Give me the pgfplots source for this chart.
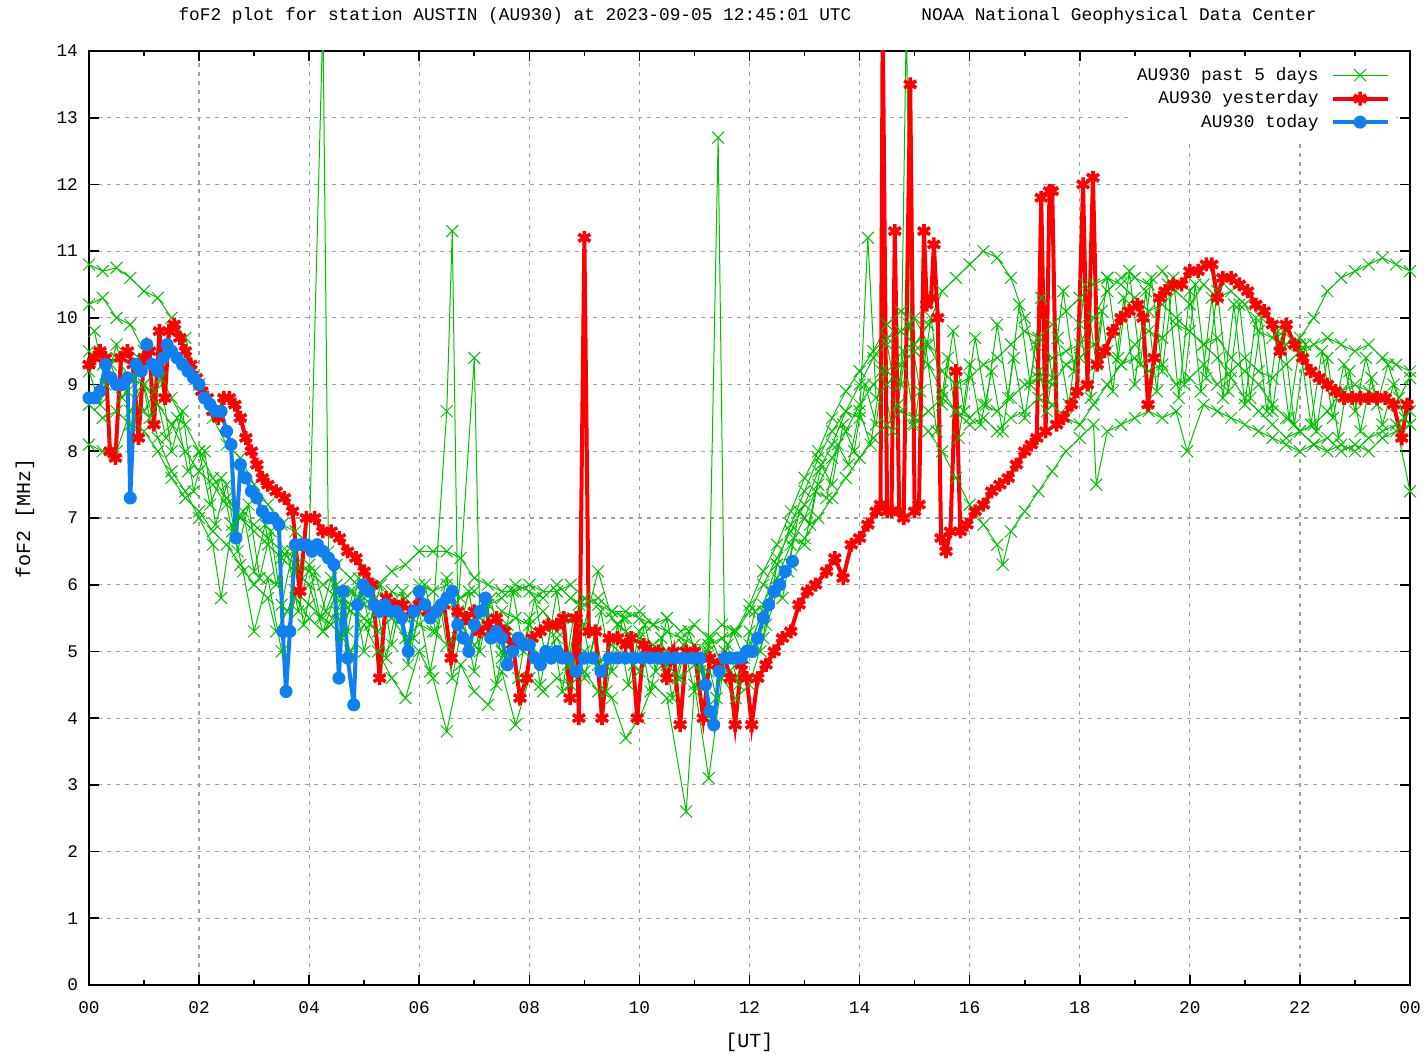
\documentclass[border=0pt]{standalone}
\usepackage{fontspec}
\setmainfont{Liberation Mono}
\setmonofont{Liberation Mono}
\usepackage{pgfplots}
\usepackage{pgfplotstable}
\pgfplotsset{compat=1.18}
\definecolor{gpgreen}{RGB}{0,192,0}
\definecolor{gpred}{RGB}{255,0,0}
\definecolor{gpblue}{RGB}{16,128,240}
\definecolor{gridgray}{RGB}{160,160,160}
\newcommand{\gf}{\fontsize{8.9}{10}\selectfont}

\pgfplotstableread{
x y
0.00 10.8
0.25 10.7
0.50 10.75
0.75 10.6
1.00 10.4
1.25 10.3
1.50 10.0
1.75 9.7
2.00 9.0
2.25 8.5
2.50 8.1
2.75 7.9
3.00 7.5
3.25 7.2
3.50 6.9
3.75 6.8
4.00 6.6
4.25 14.5
4.35 6.5
4.50 6.3
4.75 6.1
5.00 5.9
5.25 6.0
5.50 6.2
5.75 6.3
6.00 6.5
6.25 6.5
6.50 6.5
6.75 6.4
7.00 6.1
7.25 6.0
7.50 5.9
7.75 5.9
8.00 6.0
8.25 5.9
8.50 5.9
8.75 6.0
9.00 5.8
9.25 5.7
9.50 5.6
9.75 5.6
10.00 5.5
10.25 5.4
10.50 5.3
10.75 5.2
11.00 5.1
11.25 5.1
11.50 5.2
11.75 5.3
12.00 5.6
12.25 6.0
12.50 6.4
12.75 6.8
13.00 7.2
13.25 7.7
13.50 8.1
13.75 8.6
14.00 9.0
14.25 9.4
14.50 9.7
14.75 9.8
15.00 9.6
15.25 9.9
15.50 10.4
15.75 10.6
16.00 10.8
16.25 11.0
16.50 10.9
16.75 10.6
17.00 10.0
17.25 9.2
17.50 9.4
17.75 9.5
18.00 9.6
18.25 10.0
18.50 10.4
18.75 10.6
19.00 10.6
19.25 10.5
19.50 10.7
19.75 10.4
20.00 10.2
20.25 10.5
20.50 10.3
20.75 10.4
21.00 10.2
21.25 9.8
21.50 9.7
21.75 9.6
22.00 9.7
22.25 10.0
22.50 10.4
22.75 10.6
23.00 10.7
23.25 10.8
23.50 10.9
23.75 10.8
24.00 10.7
}\greenA

\pgfplotstableread{
x y
0.00 10.2
0.25 10.3
0.50 10.0
0.75 9.9
1.00 9.5
1.25 9.2
1.50 8.8
1.75 8.4
2.00 8.0
2.25 7.6
2.50 7.3
2.75 7.0
3.00 6.9
3.25 6.7
3.50 6.5
3.75 6.3
4.00 6.2
4.25 6.0
4.50 5.8
4.75 5.9
5.00 5.7
5.25 5.6
5.50 5.7
5.75 5.5
6.00 5.6
6.25 5.5
6.50 8.6
6.60 11.3
6.70 5.6
7.00 9.4
7.10 5.5
7.25 5.4
7.50 5.6
7.75 5.5
8.00 5.4
8.25 5.6
8.50 5.3
8.75 5.5
9.00 5.4
9.25 6.2
9.50 5.5
9.75 5.3
10.00 5.2
10.25 5.1
10.50 5.0
10.75 4.9
11.00 4.9
11.25 5.0
11.43 12.7
11.55 5.0
11.75 4.8
12.00 5.1
12.25 5.6
12.50 6.1
12.75 6.6
13.00 7.0
13.25 7.5
13.50 7.9
13.75 8.3
14.00 8.7
14.25 9.0
14.50 9.2
14.75 9.0
14.85 14.5
14.95 8.4
15.25 8.6
15.50 8.8
15.75 8.6
16.00 8.5
16.25 8.7
16.50 8.6
16.75 8.8
17.00 9.0
17.25 9.1
17.50 9.0
17.75 9.3
18.00 9.4
18.25 9.6
18.50 9.5
18.75 9.3
19.00 9.4
19.25 9.2
19.50 9.3
19.75 9.0
20.00 9.1
20.25 9.3
20.50 9.0
20.75 9.2
21.00 9.4
21.25 9.2
21.50 9.1
21.75 9.3
22.00 9.5
22.25 9.6
22.50 9.7
22.75 9.6
23.00 9.5
23.25 9.6
23.50 9.4
23.75 9.3
24.00 9.2
}\greenB

\pgfplotstableread{
x y
0.00 8.1
0.25 8.0
0.50 8.0
0.75 8.6
1.00 9.0
1.25 8.2
1.50 7.7
1.75 7.4
2.00 7.0
2.25 6.6
2.40 5.8
2.60 6.9
2.80 6.2
3.00 5.3
3.25 6.1
3.50 5.0
3.75 5.8
4.00 5.5
4.25 5.3
4.50 5.6
4.75 5.0
5.00 5.4
5.25 5.0
5.50 4.6
5.75 4.3
6.00 5.0
6.25 4.6
6.50 3.8
6.75 4.8
7.00 4.4
7.25 4.2
7.50 4.7
7.75 3.9
8.00 4.6
8.25 4.4
8.50 4.6
8.75 4.5
9.00 4.7
9.25 4.4
9.50 4.3
9.75 3.7
10.00 4.0
10.25 4.5
10.50 4.3
10.85 2.6
11.00 4.5
11.26 3.1
11.50 4.6
11.75 4.3
12.00 4.5
12.25 5.2
12.50 5.9
12.75 6.3
13.00 6.7
13.25 7.0
13.50 7.3
13.75 7.6
14.00 7.9
14.25 8.2
14.50 8.4
14.75 8.6
15.00 8.5
15.25 8.3
15.50 8.0
15.75 7.6
16.00 7.2
16.25 6.9
16.50 6.6
16.60 6.3
16.75 6.8
17.00 7.1
17.25 7.4
17.50 7.7
17.75 8.0
18.00 8.2
18.25 8.4
18.30 7.5
18.50 8.3
18.75 8.4
19.00 8.5
19.25 8.6
19.50 8.5
19.75 8.6
19.95 8.0
20.25 8.7
20.50 8.6
20.75 8.5
21.00 8.4
21.25 8.3
21.50 8.2
21.75 8.1
22.00 8.0
22.25 8.1
22.50 8.0
22.75 8.1
23.00 8.0
23.25 8.2
23.50 8.3
23.75 8.4
24.00 7.4
}\greenC

\pgfplotstableread{
x y
0.00 8.7
0.25 8.5
0.50 8.6
0.75 8.4
1.00 8.3
1.25 8.0
1.50 7.6
1.75 7.3
2.00 7.1
2.25 6.8
2.50 6.6
2.75 6.3
3.00 6.0
3.25 5.8
3.40 5.3
3.60 5.6
3.75 5.9
4.00 5.7
4.25 5.5
4.40 5.4
4.60 5.8
4.75 5.6
5.00 5.5
5.25 5.3
5.50 5.5
5.75 5.2
6.00 5.4
6.25 5.3
6.50 5.1
6.75 5.4
7.00 5.1
7.25 5.3
7.50 5.0
7.75 5.2
8.00 5.1
8.25 4.9
8.50 5.2
8.75 4.8
9.00 5.0
9.25 4.8
9.50 5.1
9.75 4.9
10.00 4.7
10.25 5.0
10.50 4.8
10.75 4.6
11.00 4.8
11.25 4.7
11.50 4.9
11.75 4.6
12.00 5.0
12.25 5.7
12.50 6.3
12.75 6.9
13.00 7.4
13.25 7.9
13.50 8.3
13.75 8.6
14.00 8.5
14.15 11.2
14.30 8.8
14.50 9.0
14.75 9.3
15.00 9.5
15.25 9.3
15.50 8.9
15.75 8.6
16.00 8.4
16.25 8.5
16.50 8.3
16.75 8.5
17.00 8.6
17.25 8.8
17.50 8.7
17.75 8.5
18.00 8.4
18.25 8.7
18.50 9.0
18.75 9.3
19.00 9.6
19.25 9.8
19.50 9.7
19.75 9.9
20.00 9.8
20.25 9.6
20.50 9.4
20.75 9.1
21.00 8.8
21.25 8.6
21.50 8.4
21.75 8.2
22.00 8.3
22.25 8.4
22.50 8.6
22.75 8.9
23.00 9.0
23.25 8.9
23.50 8.8
23.75 8.7
24.00 8.6
}\greenD

\pgfplotstableread{
x y
0.00 9.5
0.25 9.3
0.50 9.4
0.75 9.1
1.00 9.0
1.25 8.7
1.50 8.4
1.75 8.0
2.00 7.7
2.25 7.5
2.50 7.2
2.75 7.0
3.00 6.8
3.25 6.6
3.50 6.4
3.75 6.2
4.00 6.0
4.25 5.3
4.50 5.9
4.75 5.7
5.00 5.8
5.25 5.6
5.50 5.9
5.75 5.8
6.00 6.0
6.25 5.9
6.50 6.0
6.75 5.8
7.00 5.9
7.25 5.7
7.50 5.8
7.75 6.0
8.00 5.9
8.25 5.8
8.50 6.0
8.75 5.8
9.00 5.7
9.25 5.8
9.50 5.6
9.75 5.5
10.00 5.6
10.25 5.4
10.50 5.5
10.75 5.3
11.00 5.4
11.25 5.2
11.50 5.4
11.75 5.3
12.00 5.7
12.25 6.2
12.50 6.6
12.75 7.1
13.00 7.6
13.25 8.0
13.50 8.5
13.75 8.9
14.00 9.2
14.25 9.5
14.50 9.9
14.75 10.1
15.00 10.0
15.25 9.6
15.50 9.2
15.75 9.0
16.00 9.1
16.25 9.3
16.50 9.4
16.75 9.6
17.00 9.8
17.25 9.7
17.50 9.9
17.75 10.1
18.00 10.3
18.25 10.5
18.50 10.6
18.75 10.5
19.00 10.3
19.25 10.1
19.50 10.2
19.75 10.0
20.00 9.8
20.25 9.6
20.50 9.7
20.75 9.4
21.00 9.2
21.25 9.0
21.50 8.7
21.75 8.5
22.00 8.3
22.25 8.1
22.50 8.2
22.75 8.0
23.00 8.1
23.25 8.0
23.50 8.2
23.75 8.3
24.00 8.4
}\greenE

\pgfplotstableread{
x y
0.0 9.2
0.2 8.7
0.4 9.3
0.6 8.8
0.8 9.1
1.0 8.6
1.2 8.9
1.4 8.2
1.6 8.5
1.8 7.7
2.0 8.0
2.2 7.2
2.4 7.6
2.6 6.8
2.8 7.1
3.0 6.2
3.2 6.9
3.4 6.0
3.6 6.5
3.8 5.6
4.0 6.3
4.2 5.5
4.4 6.1
4.6 5.2
4.8 5.9
5.0 5.0
5.2 5.8
5.4 4.9
5.6 5.7
5.8 4.8
6.0 5.6
6.2 4.7
6.4 5.6
6.6 4.6
6.8 5.5
7.0 4.7
7.2 5.6
7.4 4.5
7.6 5.4
7.8 4.6
8.0 5.5
8.2 4.5
8.4 5.4
8.6 4.4
8.8 5.5
9.0 4.6
9.2 5.3
9.4 4.4
9.6 5.4
9.8 4.5
10.0 5.3
10.2 4.4
10.4 5.2
10.6 4.3
10.8 5.1
11.0 4.4
11.2 5.0
11.4 4.3
11.6 5.1
11.8 4.5
12.0 5.3
12.2 5.0
12.4 5.9
12.6 5.8
12.8 6.7
13.0 6.6
13.2 7.4
13.4 7.3
13.6 8.1
13.8 7.8
14.0 8.6
14.2 8.1
14.4 9.2
14.6 8.3
14.8 9.5
15.0 8.4
15.2 9.6
15.4 8.3
15.6 9.4
15.8 8.2
16.0 9.3
16.2 8.4
16.4 9.2
16.6 8.3
16.8 9.4
17.0 8.5
17.2 9.6
17.4 8.6
17.6 9.7
17.8 8.7
18.0 9.9
18.2 8.8
18.4 10.1
18.6 8.9
18.8 10.3
19.0 9.0
19.2 10.4
19.4 8.9
19.6 10.5
19.8 8.8
20.0 10.4
20.2 8.9
20.4 10.3
20.6 8.8
20.8 10.2
21.0 8.7
21.2 10.0
21.4 8.6
21.6 9.8
21.8 8.5
22.0 9.6
22.2 8.4
22.4 9.5
22.6 8.5
22.8 9.3
23.0 8.6
23.2 9.4
23.4 8.7
23.6 9.3
23.8 8.8
24.0 9.1
}\greenF

\pgfplotstableread{
x y
0.1 9.8
0.3 9.0
0.5 9.6
0.7 8.9
0.9 9.4
1.1 8.5
1.3 9.1
1.5 8.0
1.7 8.6
1.9 7.4
2.1 8.0
2.3 6.9
2.5 7.5
2.7 6.5
2.9 7.2
3.1 6.1
3.3 6.8
3.5 5.7
3.7 6.5
3.9 5.4
4.1 6.2
4.3 5.6
4.5 6.0
4.7 5.3
4.9 6.1
5.1 5.4
5.3 6.0
5.5 5.1
5.7 5.9
5.9 5.2
6.1 6.0
6.3 5.3
6.5 6.1
6.7 5.2
6.9 5.9
7.1 5.0
7.3 5.8
7.5 4.9
7.7 5.9
7.9 5.0
8.1 5.8
8.3 4.9
8.5 5.9
8.7 4.8
8.9 5.7
9.1 4.9
9.3 5.6
9.5 4.7
9.7 5.5
9.9 4.8
10.1 5.4
10.3 4.7
10.5 5.5
10.7 4.6
10.9 5.3
11.1 4.7
11.3 5.2
11.5 4.8
11.7 5.3
11.9 4.9
12.1 5.6
12.3 5.4
12.5 6.3
12.7 6.2
12.9 7.1
13.1 6.9
13.3 7.8
13.5 7.5
13.7 8.4
13.9 8.0
14.1 9.0
14.3 8.4
14.5 9.6
14.7 8.7
14.9 9.9
15.1 8.9
15.3 10.0
15.5 8.7
15.7 9.8
15.9 8.6
16.1 9.7
16.3 8.7
16.5 9.9
16.7 8.8
16.9 10.2
17.1 9.0
17.3 10.3
17.5 9.1
17.7 10.4
17.9 9.2
18.1 10.5
18.3 9.3
18.5 10.6
18.7 9.4
18.9 10.7
19.1 9.3
19.3 10.6
19.5 9.2
19.7 10.6
19.9 9.0
20.1 10.5
20.3 9.1
20.5 10.4
20.7 8.9
20.9 10.2
21.1 8.8
21.3 10.0
21.5 8.6
21.7 9.8
21.9 8.4
22.1 9.6
22.3 8.3
22.5 9.4
22.7 8.2
22.9 9.2
23.1 8.3
23.3 9.1
23.5 8.4
23.7 9.0
23.9 8.5
}\greenG

\pgfplotstableread{
x y
0.00 9.3
0.10 9.4
0.20 9.5
0.30 9.4
0.38 8.0
0.48 7.9
0.58 9.4
0.70 9.5
0.80 9.3
0.90 8.2
1.00 9.4
1.10 9.5
1.18 8.4
1.28 9.8
1.38 8.8
1.45 9.8
1.55 9.9
1.65 9.7
1.75 9.5
1.85 9.3
1.95 9.1
2.05 8.9
2.15 8.8
2.25 8.6
2.35 8.5
2.45 8.8
2.55 8.8
2.65 8.7
2.75 8.5
2.85 8.2
2.95 8.0
3.05 7.8
3.15 7.6
3.25 7.5
3.40 7.4
3.55 7.3
3.70 7.1
3.83 5.9
3.95 7.0
4.10 7.0
4.25 6.8
4.40 6.8
4.55 6.7
4.70 6.5
4.85 6.4
5.00 6.2
5.15 6.0
5.28 4.6
5.40 5.8
5.55 5.7
5.70 5.7
5.85 5.6
6.00 5.7
6.15 5.6
6.30 5.6
6.45 5.7
6.58 4.9
6.70 5.6
6.85 5.5
7.00 5.6
7.10 5.3
7.25 5.4
7.40 5.5
7.55 5.3
7.70 5.1
7.83 4.3
7.95 4.6
8.05 5.2
8.20 5.3
8.35 5.4
8.50 5.4
8.62 5.5
8.74 4.3
8.85 5.5
8.90 4.0
9.00 11.2
9.08 5.3
9.20 5.3
9.32 4.0
9.45 5.2
9.60 5.2
9.75 5.1
9.85 5.2
9.96 4.0
10.08 5.1
10.20 5.0
10.35 5.0
10.50 4.6
10.62 5.0
10.74 3.9
10.85 5.0
11.00 5.0
11.16 4.0
11.28 4.9
11.42 4.8
11.55 4.9
11.65 4.6
11.74 3.9
11.85 4.8
11.95 4.6
12.04 3.9
12.15 4.6
12.30 4.8
12.45 5.0
12.60 5.2
12.75 5.3
12.90 5.7
13.05 5.9
13.20 6.0
13.40 6.2
13.55 6.4
13.70 6.1
13.85 6.6
14.00 6.7
14.15 6.9
14.30 7.1
14.38 7.2
14.42 14.5
14.50 7.1
14.58 7.1
14.64 11.3
14.72 7.1
14.80 7.0
14.92 13.5
15.00 7.1
15.08 7.2
15.17 11.3
15.22 10.2
15.30 10.3
15.35 11.1
15.42 10.0
15.48 6.7
15.57 6.5
15.65 6.8
15.75 9.2
15.83 6.8
15.95 6.9
16.10 7.1
16.25 7.2
16.40 7.4
16.55 7.5
16.70 7.6
16.85 7.8
17.00 8.0
17.12 8.1
17.22 8.2
17.30 11.8
17.38 8.3
17.45 11.9
17.50 11.9
17.58 8.4
17.70 8.5
17.85 8.7
17.95 8.9
18.06 12.0
18.14 9.0
18.24 12.1
18.32 9.3
18.45 9.5
18.60 9.8
18.75 10.0
18.90 10.1
19.05 10.2
19.15 10.0
19.24 8.7
19.35 9.4
19.45 10.3
19.55 10.4
19.70 10.5
19.85 10.5
20.00 10.7
20.15 10.7
20.30 10.8
20.40 10.8
20.50 10.3
20.60 10.6
20.75 10.6
20.90 10.5
21.05 10.4
21.20 10.2
21.35 10.1
21.50 9.9
21.64 9.5
21.75 9.9
21.90 9.6
22.05 9.4
22.20 9.2
22.35 9.1
22.50 9.0
22.65 8.9
22.80 8.8
22.95 8.8
23.10 8.8
23.25 8.8
23.40 8.8
23.55 8.8
23.70 8.7
23.85 8.2
23.95 8.7
}\redT

\pgfplotstableread{
x y
0.00 8.8
0.10 8.8
0.20 8.9
0.30 9.3
0.40 9.1
0.50 9.0
0.60 9.0
0.70 9.1
0.75 7.3
0.85 9.3
0.95 9.2
1.05 9.6
1.15 9.3
1.25 9.2
1.35 9.4
1.42 9.6
1.50 9.5
1.60 9.4
1.70 9.3
1.80 9.2
1.90 9.1
2.00 9.0
2.10 8.8
2.20 8.7
2.30 8.6
2.40 8.6
2.50 8.3
2.58 8.1
2.67 6.7
2.75 7.8
2.85 7.6
2.95 7.4
3.05 7.3
3.15 7.1
3.25 7.0
3.35 7.0
3.45 6.9
3.52 5.3
3.58 4.4
3.65 5.3
3.75 6.6
3.85 6.6
3.95 6.6
4.05 6.5
4.15 6.6
4.25 6.5
4.35 6.4
4.45 6.3
4.54 4.6
4.62 5.9
4.70 4.9
4.81 4.2
4.88 5.7
4.98 6.0
5.08 5.9
5.18 5.7
5.28 5.6
5.38 5.7
5.48 5.6
5.58 5.6
5.68 5.5
5.80 5.0
5.90 5.6
6.00 5.9
6.10 5.7
6.20 5.5
6.30 5.6
6.40 5.7
6.50 5.8
6.60 5.9
6.70 5.4
6.80 5.2
6.90 5.0
7.00 5.4
7.10 5.6
7.20 5.8
7.30 5.2
7.40 5.3
7.50 5.2
7.60 4.8
7.70 5.0
7.80 5.2
7.90 5.1
8.00 5.1
8.10 4.9
8.20 4.8
8.30 5.0
8.40 4.9
8.50 5.0
8.60 4.9
8.70 4.9
8.85 4.7
9.00 4.9
9.15 4.9
9.30 4.7
9.45 4.9
9.60 4.9
9.75 4.9
9.90 4.9
10.05 4.9
10.20 4.9
10.35 4.9
10.50 4.9
10.65 4.9
10.80 4.9
10.95 4.9
11.10 4.9
11.20 4.5
11.28 4.1
11.35 3.9
11.45 4.7
11.55 4.9
11.65 4.9
11.75 4.9
11.85 4.9
11.95 5.0
12.05 5.0
12.15 5.2
12.25 5.5
12.35 5.7
12.45 5.9
12.55 6.0
12.65 6.2
12.78 6.35
}\blueT

\begin{document}
\begin{tikzpicture}
\useasboundingbox (-44.5pt,-35pt) rectangle (668.5pt,492.5pt);
\begin{axis}[
  at={(0,0)}, anchor=south west,
  scale only axis, width=660.5pt, height=467pt,
  xmin=0, xmax=24, ymin=0, ymax=14,
  xtick={0,2,...,24},
  xticklabels={00,02,04,06,08,10,12,14,16,18,20,22,00},
  minor xtick={1,3,...,23},
  ytick={0,1,...,14},
  grid=major,
  major grid style={gridgray, line width=0.6pt, dash pattern=on 2pt off 2.5pt},
  tick align=inside,
  major tick length=5pt, minor tick length=2.5pt,
  tick style={black, line width=0.8pt},
  axis line style={black, line width=0.8pt},
  /pgf/number format/assume math mode=true,
  tick label style={font=\gf},
  xticklabel style={anchor=center, yshift=-11.5pt},
  yticklabel style={xshift=-2pt},
  xlabel={[UT]}, ylabel={foF2 [MHz]},
  label style={font=\gf},
  every axis x label/.style={at={(axis description cs:0.5,0)}, anchor=center, yshift=-28.5pt},
  every axis y label/.style={at={(axis description cs:0,0.5)}, anchor=center, xshift=-32pt, rotate=90},
  legend plot pos=right, legend cell align=right,
  legend style={draw=none, fill=white, at={(1,1)}, anchor=north east,
    xshift=-7pt, yshift=-3pt, inner sep=3pt, row sep=0pt, font=\gf,
    nodes={inner sep=0pt, minimum height=11.75pt},
    /tikz/every odd column/.append style={column sep=6pt}},
  legend image code/.code={\draw[mark repeat=2,mark phase=2,#1] plot coordinates {(0pt,0pt) (13.75pt,0pt) (27.5pt,0pt)};},
  gr/.style={gpgreen, line width=0.5pt, mark=x, mark size=4.2pt, mark options={line width=0.5pt}},
]
\addplot[gr] table[x=x,y=y] {\greenA};
\addlegendentry{AU930 past 5 days}
\addplot[gr, forget plot] table[x=x,y=y] {\greenB};
\addplot[gr, forget plot] table[x=x,y=y] {\greenC};
\addplot[gr, forget plot] table[x=x,y=y] {\greenD};
\addplot[gr, forget plot] table[x=x,y=y] {\greenE};
\addplot[gr, forget plot] table[x=x,y=y] {\greenF};
\addplot[gr, forget plot] table[x=x,y=y] {\greenG};
\addplot[gpred, line width=2pt, mark=asterisk, mark size=3.5pt, mark options={line width=1.8pt}] table[x=x,y=y] {\redT};
\addlegendentry{AU930 yesterday}
\addplot[gpblue, line width=2pt, mark=*, mark size=3pt, mark options={fill=gpblue, draw=gpblue, line width=0.5pt}] table[x=x,y=y] {\blueT};
\addlegendentry{AU930 today}
\end{axis}
\node[font=\gf] at (213pt,484.5pt) {foF2 plot for station AUSTIN (AU930) at 2023-09-05 12:45:01 UTC};
\node[font=\gf] at (515pt,484.5pt) {NOAA National Geophysical Data Center};
\end{tikzpicture}
\end{document}
